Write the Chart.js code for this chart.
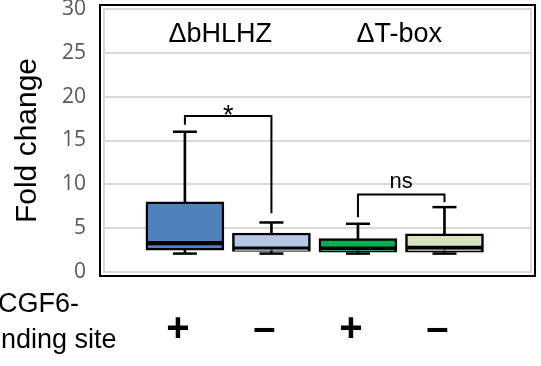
<!DOCTYPE html>
<html>
<head>
<meta charset="utf-8">
<script src="https://cdn.jsdelivr.net/npm/chart.js@4/dist/chart.umd.min.js"></script>
<style>
  html, body { margin: 0; padding: 0; background: #fff; }
  #wrap { position: relative; width: 541px; height: 366px; }
</style>
</head>
<body>
<div id="wrap"><canvas id="c" width="541" height="366"></canvas></div>
<script>
// ---- data ----
const categories = ['+', '–', '+', '–'];          // PCGF6-binding site
const groupLabels = ['ΔbHLHZ', 'ΔT-box'];
const groupMembers = [[0, 1], [2, 3]];
const whiskerMin = [2.1, 2.1, 2.1, 2.1];
const q1 = [2.5, 2.35, 2.25, 2.25];
const median = [3.3, 2.65, 2.65, 2.75];
const q3 = [8.0, 4.45, 3.8, 4.35];
const whiskerMax = [16.0, 5.65, 5.5, 7.4];
const boxColors = ['#4f81bd', '#b4c7e7', '#00b050', '#d7e4bd'];
const yTicks = [0, 5, 10, 15, 20, 25, 30];
const sigLabels = ['*', 'ns'];
const sigPairs = [[0, 1], [2, 3]];
const sigTop = [17.8, 8.85];
const sigLeftEnd = [16.8, 6.25];
const sigRightEnd = [6.7, 7.95];
const xTitleLines = ['PCGF6-', 'binding site'];
const yTitle = 'Fold change';

// ---- build ----
const pos = categories.map((_, i) => i + 1);
const FONT = "'Liberation Sans', Arial, sans-serif";

const datasets = [];
datasets.push({
  type: 'bar', label: 'lower', order: 0, grouped: false,
  data: pos.map((x, i) => ({ x, y: [q1[i], median[i]] })),
  backgroundColor: boxColors, borderColor: '#000', borderWidth: 2.5,
  borderSkipped: false, barThickness: 78
});
datasets.push({
  type: 'bar', label: 'upper', order: 0, grouped: false,
  data: pos.map((x, i) => ({ x, y: [median[i], q3[i]] })),
  backgroundColor: boxColors, borderColor: '#000', borderWidth: 2.5,
  borderSkipped: false, barThickness: 78
});
datasets.push({
  type: 'scatter', label: 'caps', order: 1,
  data: pos.flatMap((x, i) => [{ x, y: whiskerMax[i] }, { x, y: whiskerMin[i] }]),
  pointStyle: 'line', pointRadius: 12, pointHoverRadius: 12,
  borderColor: '#000', borderWidth: 2.5, backgroundColor: '#000'
});
datasets.push({
  type: 'bar', label: 'stems', order: 2, grouped: false,
  data: pos.map((x, i) => ({ x, y: [whiskerMin[i], whiskerMax[i]] })),
  backgroundColor: '#000', borderWidth: 0, barThickness: 2
});
sigPairs.forEach((p, k) => {
  datasets.push({
    type: 'line', label: 'sig' + k, order: 1,
    data: [
      { x: pos[p[0]], y: sigLeftEnd[k] },
      { x: pos[p[0]], y: sigTop[k] },
      { x: pos[p[1]], y: sigTop[k] },
      { x: pos[p[1]], y: sigRightEnd[k] }
    ],
    borderColor: '#000', borderWidth: 2, pointRadius: 0, tension: 0, fill: false
  });
});

const decor = {
  id: 'decor',
  beforeDatasetsDraw(chart) {
    const { ctx, chartArea: a } = chart;
    ctx.save();
    ctx.strokeStyle = '#d9d9d9';
    ctx.lineWidth = 2;
    ctx.strokeRect(a.left, a.top, a.right - a.left, a.bottom - a.top);
    ctx.restore();
  },
  afterDraw(chart) {
    const { ctx, chartArea: a, scales } = chart;
    const xs = scales.x, ys = scales.y;
    ctx.save();
    ctx.strokeStyle = '#000';
    ctx.lineWidth = 2;
    ctx.strokeRect(a.left - 4, a.top - 4, a.right - a.left + 8, a.bottom - a.top + 8);
    ctx.fillStyle = '#000';
    ctx.textAlign = 'center';
    ctx.textBaseline = 'alphabetic';
    ctx.font = '27px ' + FONT;
    const nudge = [-8, -2];
    groupLabels.forEach((t, g) => {
      const m = groupMembers[g];
      const cx = (xs.getPixelForValue(pos[m[0]]) + xs.getPixelForValue(pos[m[1]])) / 2;
      ctx.fillText(t, cx + nudge[g], 42);
    });
    sigLabels.forEach((t, k) => {
      const p = sigPairs[k];
      const cx = (xs.getPixelForValue(pos[p[0]]) + xs.getPixelForValue(pos[p[1]])) / 2;
      const y = ys.getPixelForValue(sigTop[k]);
      if (t === '*') {
        ctx.font = '27px ' + FONT;
        ctx.fillText(t, cx, y + 8);
      } else {
        ctx.font = '22px ' + FONT;
        ctx.fillText(t, cx, y - 6);
      }
    });
    ctx.textAlign = 'left';
    ctx.font = '27px ' + FONT;
    ctx.fillText(xTitleLines[0], -20, 312);
    ctx.fillText(xTitleLines[1], -20, 348);
    ctx.restore();
  }
};

new Chart(document.getElementById('c'), {
  type: 'bar',
  data: { datasets },
  options: {
    responsive: false,
    animation: false,
    events: [],
    layout: { autoPadding: false, padding: { left: 0, right: 10, top: 9, bottom: 0 } },
    plugins: { legend: { display: false }, tooltip: { enabled: false } },
    scales: {
      x: {
        type: 'linear', min: 0.065, max: 5.0, offset: false,
        grid: { display: false, drawTicks: false },
        border: { display: false },
        afterFit(s) { s.height = 94; s.paddingLeft = 0; s.paddingRight = 0; },
        afterBuildTicks(s) { s.ticks = pos.map(v => ({ value: v })); },
        ticks: {
          autoSkip: false, maxRotation: 0, padding: 34, labelOffset: -7,
          color: '#000',
          font: { family: FONT, size: 40, weight: 'bold' },
          callback: (v) => categories[Math.round(v) - 1] ?? ''
        }
      },
      y: {
        min: 0, max: 30,
        afterFit(s) { s.width = 104; s.paddingTop = 0; s.paddingBottom = 0; },
        afterBuildTicks(s) { s.ticks = yTicks.map(v => ({ value: v })); },
        grid: { color: '#d9d9d9', lineWidth: 2, drawTicks: false },
        border: { display: false },
        ticks: {
          padding: 18, color: '#595959',
          font: { family: "'Open Sans', sans-serif", size: 21 }
        },
        title: {
          display: true, text: yTitle, color: '#000',
          font: { family: FONT, size: 30 },
          padding: { top: 10, bottom: 0 }
        }
      }
    }
  },
  plugins: [decor]
});
</script>
</body>
</html>
